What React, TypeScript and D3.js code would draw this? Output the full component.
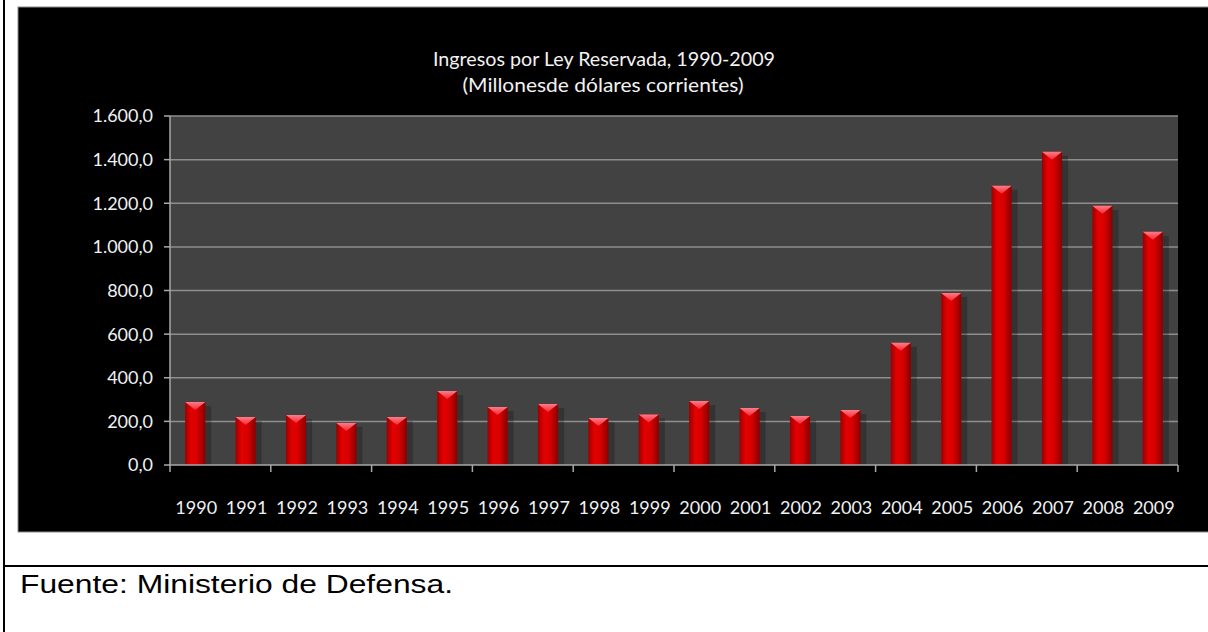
import React from 'react';
import * as d3 from 'd3';

const years: string[] = [
  '1990', '1991', '1992', '1993', '1994', '1995', '1996', '1997', '1998', '1999',
  '2000', '2001', '2002', '2003', '2004', '2005', '2006', '2007', '2008', '2009',
];
const ingresos: number[] = [
  289, 220, 229, 193, 220, 339, 266, 280, 215, 232,
  293, 261, 225, 252, 560, 789, 1280, 1436, 1188, 1069,
];
const yTicks: number[] = [0, 200, 400, 600, 800, 1000, 1200, 1400, 1600];
const titleLines: string[] = [
  'Ingresos por Ley Reservada, 1990-2009',
  '(Millonesde dólares corrientes)',
];
const sourceText = 'Fuente: Ministerio de Defensa.';

const W = 1208;
const H = 632;
const plot = { left: 170, right: 1178, top: 116, bottom: 465 };
const tickFont = 'Lato, "Open Sans", sans-serif';

// spanish number format: 1.600,0
const fmt = (v: number) => {
  const s = v.toFixed(1).replace('.', ',');
  const [int, dec] = s.split(',');
  return int.replace(/\B(?=(\d{3})+(?!\d))/g, '.') + ',' + dec;
};

const App: React.FC = () => {
  const x = d3
    .scaleBand<string>()
    .domain(years)
    .range([plot.left, plot.right])
    .paddingInner(0.6)
    .paddingOuter(0.3);
  const y = d3.scaleLinear().domain([0, 1600]).range([plot.bottom, plot.top]);
  const step = x.step();
  const bw = x.bandwidth();

  // tick marks on the x axis every two categories (band edges)
  const xTickPos = d3.range(0, years.length + 1, 2).map((i) => plot.left + i * ((plot.right - plot.left) / years.length));

  return (
    <svg
      width={W}
      height={H}
      style={{ position: 'absolute', left: 0, top: 0, display: 'block', background: '#fff' }}
    >
      <defs>
        <linearGradient id="barGrad" x1="0" x2="1" y1="0" y2="0">
          <stop offset="0%" stopColor="#9a0000" />
          <stop offset="30%" stopColor="#e40000" />
          <stop offset="60%" stopColor="#d60000" />
          <stop offset="100%" stopColor="#8a0000" />
        </linearGradient>
        <linearGradient id="capGrad" x1="0" x2="0" y1="0" y2="1">
          <stop offset="0%" stopColor="#ff8a96" />
          <stop offset="100%" stopColor="#ff2a3a" />
        </linearGradient>
      </defs>

      {/* table lines */}
      <line x1={4} x2={4} y1={0} y2={H} stroke="#000" strokeWidth={2} />
      <line x1={4} x2={W} y1={566} y2={566} stroke="#000" strokeWidth={2} />

      {/* black chart area */}
      <rect x={18} y={7} width={W - 18 + 2} height={525} fill="#000" stroke="#8a8a8a" strokeWidth={1} />

      {/* title */}
      <g fill="#f2f2f2" fontFamily={tickFont} textAnchor="middle">
        <text x={604} y={66} fontSize={20} textLength={342} lengthAdjust="spacingAndGlyphs">
          {titleLines[0]}
        </text>
        <text x={603} y={92} fontSize={20} textLength={281} lengthAdjust="spacingAndGlyphs">
          {titleLines[1]}
        </text>
      </g>

      {/* plot background */}
      <rect x={plot.left} y={plot.top} width={plot.right - plot.left} height={plot.bottom - plot.top} fill="#424242" />

      {/* gridlines */}
      {yTicks.filter((t) => t > 0).map((t) => (
        <line key={t} x1={plot.left} x2={plot.right} y1={y(t)} y2={y(t)} stroke="#8e8e8e" strokeWidth={1.5} />
      ))}

      {/* bars */}
      {years.map((yr, i) => {
        const bx = x(yr)!;
        const top = y(ingresos[i]);
        const h = plot.bottom - top;
        return (
          <g key={yr}>
            <rect x={bx + 3} y={top + 4} width={bw + 3} height={h - 4} fill="#000" opacity={0.22} />
            <rect x={bx} y={top} width={bw} height={h} fill="url(#barGrad)" />
            <polygon
              points={`${bx},${top} ${bx + bw},${top} ${bx + bw / 2},${top + 8}`}
              fill="url(#capGrad)"
              opacity={0.9}
            />
          </g>
        );
      })}

      {/* axes */}
      <line x1={plot.left} x2={plot.left} y1={plot.top} y2={plot.bottom} stroke="#a8a8a8" strokeWidth={1.5} />
      <line x1={plot.left - 1} x2={plot.right} y1={plot.bottom} y2={plot.bottom} stroke="#a8a8a8" strokeWidth={1.5} />
      {yTicks.map((t) => (
        <g key={t}>
          <line x1={plot.left - 6} x2={plot.left} y1={y(t)} y2={y(t)} stroke="#a8a8a8" strokeWidth={1.5} />
          <text
            x={153}
            y={y(t)}
            dy="0.36em"
            textAnchor="end"
            fill="#eef2f4"
            fontFamily={tickFont}
            fontSize={18}
          >
            {fmt(t)}
          </text>
        </g>
      ))}
      {xTickPos.map((p, i) => (
        <line key={i} x1={p} x2={p} y1={plot.bottom} y2={plot.bottom + 7} stroke="#a8a8a8" strokeWidth={1.5} />
      ))}
      {years.map((yr) => (
        <text
          key={yr}
          x={x(yr)! + bw / 2 + 1}
          y={514}
          textAnchor="middle"
          fill="#eef2f4"
          fontFamily={tickFont}
          fontSize={18}
        >
          {yr}
        </text>
      ))}

      {/* source */}
      <text
        x={20}
        y={593}
        fontFamily='"Liberation Sans", Arial, sans-serif'
        fontSize={25}
        fill="#000"
        textLength={433}
        lengthAdjust="spacingAndGlyphs"
      >
        {sourceText}
      </text>
    </svg>
  );
};

export default App;
